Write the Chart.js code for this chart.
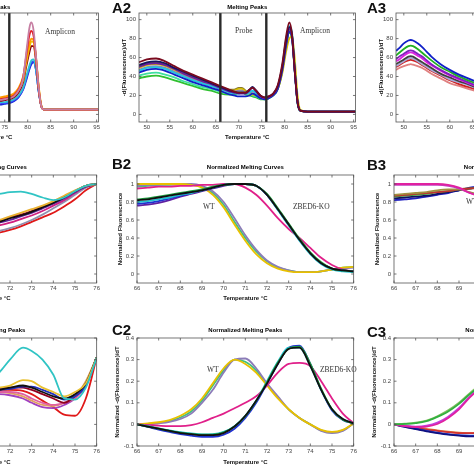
<!DOCTYPE html>
<html>
<head>
<meta charset="utf-8">
<script src="https://cdn.jsdelivr.net/npm/chart.js@4"></script>
<style>
  body { margin: 0; background: #fff; }
  #fig { position: relative; width: 474px; height: 474px; overflow: hidden; font-family: "Liberation Sans", Arial, sans-serif; }
  #fig canvas { position: absolute; }
  .lbl { position: absolute; font-size: 15px; font-weight: bold; line-height: 15px; color: #111; }
  .note { position: absolute; font-family: "Liberation Serif", "Times New Roman", serif; font-size: 7.5px; line-height: 8px; white-space: nowrap; color: #333; }
</style>
</head>
<body>
<div id="fig"></div>
<script>
// ---- axes ----
const aTicksX = [50, 55, 60, 65, 70, 75, 80, 85, 90, 95];
const aTicksY = [0, 20, 40, 60, 80, 100];
const bcTicksX = [66, 67, 68, 69, 70, 71, 72, 73, 74, 75, 76];
const bTicksY = [0, 0.2, 0.4, 0.6, 0.8, 1];
const cTicksY = [-0.1, 0, 0.1, 0.2, 0.3, 0.4];
const probeLines = [66, 76];

// ---- A1 melting peaks (amplicon region) ----
const a1Temps = [74, 75, 76, 77, 78, 79, 79.8, 80.4, 80.8, 81.3, 81.8, 82.4, 83, 83.6, 85, 90, 95.4];
const a1Curves = [
  [15, 16, 17, 19, 25, 38, 70, 92, 97, 88, 62, 28, 8, 5, 5, 5, 5],
  [16, 17, 18, 20, 26, 39, 66, 84, 88, 82, 60, 27, 8, 5, 5, 5, 5],
  [18, 19, 20, 22, 28, 40, 61, 75, 80, 78, 60, 28, 8, 5, 5, 5, 5],
  [17, 18, 19, 21, 26, 36, 57, 71, 77, 76, 61, 30, 9, 5, 5, 5, 5],
  [14, 15, 16, 18, 23, 34, 53, 66, 72, 72, 56, 26, 8, 5, 5, 5, 5],
  [13, 13, 14, 16, 20, 28, 42, 52, 57, 58, 48, 24, 8, 5, 5, 5, 5],
  [12, 12, 13, 15, 19, 27, 40, 50, 55, 56, 47, 24, 8, 5, 5, 5, 5],
  [10, 11, 12, 14, 18, 26, 38, 48, 53, 55, 47, 24, 8, 5, 5, 5, 5]
];

// ---- A2 melting peaks (probe + amplicon) ----
const a2Temps = [48.3, 50, 52, 54, 56, 58, 60, 62, 64, 66, 68, 69, 70, 70.7, 71.5, 72.3, 73, 73.8, 74.7, 75.6, 76.5, 77.5, 78.5, 79.5, 80.3, 81, 81.6, 82.2, 82.8, 83.4, 85, 90, 95.4];
const a2Curves = [
  [55, 58, 59, 56, 51, 46, 42, 38, 34, 30, 26, 24, 23, 23, 23, 26, 28, 25, 20, 18, 19, 22, 31, 54, 82, 97, 84, 46, 13, 4, 3, 3, 3],
  [52, 55, 56, 54, 49, 45, 41, 37, 33, 29, 25, 24, 23, 23, 23, 26, 29, 25, 20, 18, 19, 22, 30, 51, 78, 92, 84, 46, 13, 4, 3, 3, 3],
  [50, 53, 54, 52, 48, 43, 39, 35, 32, 28, 24, 23, 22, 22, 22, 25, 28, 24, 19, 17, 18, 21, 29, 50, 76, 90, 82, 45, 13, 4, 3, 3, 3],
  [44, 47, 48, 46, 42, 38, 34, 31, 28, 25, 21, 20, 19, 19, 19, 20, 22, 20, 17, 16, 17, 20, 27, 47, 72, 87, 80, 44, 12, 4, 3, 3, 3],
  [46, 49, 50, 48, 44, 40, 36, 33, 30, 27, 23, 22, 22, 23, 22, 23, 25, 22, 18, 17, 18, 21, 29, 52, 80, 93, 86, 48, 13, 4, 3, 3, 3],
  [47, 50, 51, 49, 45, 41, 37, 33, 30, 27, 24, 24, 25, 25, 23, 23, 24, 22, 18, 17, 18, 21, 28, 50, 77, 91, 83, 46, 13, 4, 3, 3, 3],
  [49, 52, 53, 51, 47, 42, 38, 34, 31, 28, 25, 25, 27, 27, 24, 22, 21, 20, 18, 17, 18, 21, 27, 44, 66, 80, 82, 58, 20, 5, 3, 3, 3],
  [51, 54, 55, 53, 49, 44, 40, 36, 33, 29, 26, 26, 28, 28, 25, 23, 22, 21, 19, 17, 18, 21, 28, 48, 74, 88, 82, 46, 13, 4, 3, 3, 3],
  [41, 43, 44, 42, 39, 35, 32, 29, 27, 24, 22, 22, 24, 25, 22, 21, 20, 19, 17, 16, 17, 20, 27, 47, 73, 88, 81, 45, 12, 4, 3, 3, 3],
  [38, 40, 41, 39, 36, 33, 30, 27, 25, 22, 21, 21, 23, 24, 21, 20, 19, 18, 16, 16, 17, 20, 27, 46, 72, 86, 80, 45, 12, 4, 3, 3, 3]
];

// ---- A3 melting peaks (low temperature part) ----
const a3Temps = [48.3, 49, 50, 51, 51.5, 52, 53, 54, 55, 56, 58, 60, 62, 64, 66];
const a3Curves = [
  [67, 70, 75, 78, 78.5, 78, 75, 71, 66, 61, 53, 47, 42, 38, 34],
  [62, 65, 69, 72, 72.5, 72, 69, 65, 61, 57, 50, 45, 40, 36, 32],
  [58, 61, 64, 67, 67.5, 67, 64, 61, 57, 53, 47, 42, 38, 34, 30],
  [56, 58, 62, 65, 65.5, 65, 62, 59, 55, 52, 46, 41, 37, 33, 29],
  [53, 55, 58, 61, 61.5, 61, 58, 55, 52, 49, 43, 39, 35, 32, 28],
  [51, 53, 56, 59, 59.5, 59, 56, 53, 50, 47, 42, 37, 34, 31, 27],
  [50, 52, 55, 57, 57.5, 57, 55, 52, 49, 46, 41, 36, 32, 29, 26],
  [47, 49, 51, 52.5, 53, 52.5, 51, 49, 46, 43, 38, 33, 30, 27, 24]
];

// ---- B1 normalized melting curves ----
const b1Temps = [66, 67, 68, 69, 70, 71, 71.5, 72, 72.5, 73, 73.5, 74, 74.5, 75, 75.5, 76];
const b1Curves = [
  [0.8, 0.82, 0.84, 0.86, 0.87, 0.88, 0.89, 0.91, 0.915, 0.89, 0.85, 0.82, 0.85, 0.92, 0.98, 1],
  [0.42, 0.45, 0.48, 0.52, 0.55, 0.58, 0.6, 0.64, 0.68, 0.72, 0.76, 0.81, 0.87, 0.93, 0.98, 1],
  [0.4, 0.43, 0.46, 0.5, 0.53, 0.56, 0.58, 0.62, 0.65, 0.69, 0.74, 0.79, 0.85, 0.92, 0.98, 1],
  [0.38, 0.41, 0.44, 0.48, 0.52, 0.55, 0.57, 0.6, 0.64, 0.68, 0.73, 0.78, 0.84, 0.91, 0.97, 1],
  [0.4, 0.43, 0.46, 0.5, 0.53, 0.56, 0.59, 0.63, 0.66, 0.7, 0.75, 0.8, 0.86, 0.92, 0.98, 1],
  [0.35, 0.38, 0.41, 0.45, 0.48, 0.52, 0.54, 0.57, 0.61, 0.65, 0.7, 0.76, 0.82, 0.9, 0.97, 1],
  [0.3, 0.33, 0.36, 0.4, 0.43, 0.46, 0.48, 0.51, 0.55, 0.6, 0.66, 0.73, 0.8, 0.88, 0.96, 1],
  [0.3, 0.32, 0.35, 0.38, 0.41, 0.44, 0.46, 0.49, 0.53, 0.58, 0.63, 0.68, 0.75, 0.83, 0.93, 1]
];

// ---- B2 normalized melting curves (WT vs ZBED6-KO) ----
const b2Temps = [66, 66.5, 67, 67.5, 68, 68.5, 69, 69.5, 70, 70.5, 71, 71.5, 72, 72.5, 73, 73.5, 74, 74.5, 75, 75.5, 76];
const b2Curves = [
  [0.82, 0.83, 0.85, 0.87, 0.89, 0.91, 0.93, 0.96, 0.99, 1, 1, 0.98, 0.88, 0.72, 0.55, 0.38, 0.23, 0.12, 0.06, 0.04, 0.03],
  [0.83, 0.84, 0.86, 0.88, 0.9, 0.92, 0.94, 0.97, 0.99, 1, 1, 0.98, 0.89, 0.73, 0.56, 0.39, 0.24, 0.13, 0.06, 0.04, 0.03],
  [0.8, 0.81, 0.83, 0.85, 0.88, 0.9, 0.93, 0.96, 0.99, 1, 1, 0.98, 0.88, 0.71, 0.54, 0.37, 0.22, 0.11, 0.05, 0.03, 0.02],
  [0.78, 0.79, 0.81, 0.84, 0.87, 0.9, 0.93, 0.96, 0.99, 1, 1, 0.98, 0.88, 0.72, 0.55, 0.38, 0.23, 0.12, 0.06, 0.04, 0.03],
  [0.76, 0.77, 0.79, 0.82, 0.86, 0.89, 0.92, 0.95, 0.98, 1, 1, 0.98, 0.88, 0.72, 0.55, 0.38, 0.23, 0.12, 0.06, 0.04, 0.03],
  [0.95, 0.96, 0.97, 0.97, 0.98, 0.98, 0.99, 0.99, 1, 1, 0.96, 0.88, 0.76, 0.62, 0.5, 0.4, 0.29, 0.18, 0.1, 0.05, 0.03],
  [1, 1, 1, 1, 1, 0.99, 0.96, 0.88, 0.74, 0.55, 0.37, 0.22, 0.12, 0.06, 0.03, 0.02, 0.02, 0.03, 0.05, 0.07, 0.08],
  [0.98, 0.99, 0.99, 1, 1, 1, 0.98, 0.92, 0.8, 0.62, 0.43, 0.27, 0.15, 0.08, 0.04, 0.02, 0.02, 0.03, 0.05, 0.06, 0.07],
  [0.97, 0.98, 0.99, 0.99, 1, 0.99, 0.97, 0.9, 0.77, 0.58, 0.4, 0.25, 0.14, 0.07, 0.04, 0.02, 0.02, 0.03, 0.05, 0.07, 0.08]
];

// ---- B3 normalized melting curves ----
const b3Temps = [66, 66.5, 67, 67.5, 68, 68.5, 69, 69.5, 70, 70.5];
const b3Curves = [
  [1, 1, 1, 1, 1, 0.99, 0.96, 0.9, 0.86, 0.85],
  [0.99, 0.99, 0.99, 0.99, 0.99, 0.98, 0.95, 0.9, 0.87, 0.86],
  [0.88, 0.89, 0.9, 0.91, 0.93, 0.94, 0.94, 0.91, 0.88, 0.86],
  [0.87, 0.88, 0.89, 0.9, 0.91, 0.92, 0.94, 0.95, 0.96, 0.97],
  [0.86, 0.87, 0.88, 0.89, 0.91, 0.92, 0.94, 0.95, 0.96, 0.97],
  [0.84, 0.85, 0.86, 0.87, 0.89, 0.91, 0.93, 0.95, 0.97, 0.98],
  [0.82, 0.83, 0.84, 0.86, 0.88, 0.9, 0.93, 0.96, 0.97, 0.98]
];

// ---- C1 normalized melting peaks ----
const c1Temps = [66, 67, 68, 69, 70, 71, 71.5, 72, 72.6, 73, 73.5, 74, 74.5, 75, 75.5, 76];
const c1Curves = [
  [0, 0.03, 0.07, 0.11, 0.16, 0.2, 0.24, 0.3, 0.355, 0.34, 0.3, 0.23, 0.12, 0.115, 0.17, 0.31],
  [0, 0.03, 0.07, 0.11, 0.14, 0.16, 0.17, 0.18, 0.205, 0.2, 0.17, 0.15, 0.13, 0.15, 0.19, 0.31],
  [0, 0.03, 0.07, 0.1, 0.13, 0.15, 0.16, 0.17, 0.18, 0.17, 0.15, 0.13, 0.12, 0.14, 0.19, 0.31],
  [0, 0.03, 0.06, 0.1, 0.13, 0.15, 0.16, 0.165, 0.175, 0.175, 0.16, 0.14, 0.115, 0.13, 0.18, 0.31],
  [0, 0.03, 0.07, 0.1, 0.13, 0.15, 0.165, 0.17, 0.17, 0.16, 0.14, 0.12, 0.1, 0.13, 0.18, 0.31],
  [0, 0.03, 0.06, 0.09, 0.12, 0.14, 0.15, 0.15, 0.14, 0.12, 0.1, 0.09, 0.1, 0.12, 0.18, 0.31],
  [0, 0.03, 0.06, 0.09, 0.12, 0.14, 0.15, 0.145, 0.13, 0.11, 0.09, 0.085, 0.1, 0.13, 0.2, 0.31],
  [0, 0.03, 0.06, 0.09, 0.12, 0.14, 0.14, 0.135, 0.12, 0.1, 0.08, 0.075, 0.09, 0.12, 0.19, 0.31],
  [0, 0.03, 0.07, 0.1, 0.13, 0.15, 0.16, 0.16, 0.155, 0.14, 0.11, 0.08, 0.045, 0.04, 0.12, 0.31]
];

// ---- C2 normalized melting peaks (WT vs ZBED6-KO) ----
const c2Temps = b2Temps;
const c2Curves = [
  [0, -0.01, -0.02, -0.03, -0.04, -0.045, -0.05, -0.05, -0.04, -0.01, 0.04, 0.11, 0.19, 0.28, 0.35, 0.355, 0.27, 0.16, 0.07, 0.025, 0.005],
  [0, -0.01, -0.02, -0.03, -0.038, -0.044, -0.048, -0.047, -0.037, -0.01, 0.038, 0.108, 0.195, 0.285, 0.35, 0.36, 0.28, 0.165, 0.07, 0.022, 0.005],
  [0, -0.008, -0.018, -0.028, -0.036, -0.042, -0.046, -0.045, -0.035, -0.008, 0.04, 0.11, 0.2, 0.29, 0.355, 0.355, 0.27, 0.16, 0.07, 0.025, 0.005],
  [0, -0.012, -0.024, -0.035, -0.045, -0.052, -0.058, -0.058, -0.048, -0.02, 0.03, 0.1, 0.19, 0.28, 0.355, 0.365, 0.28, 0.16, 0.065, 0.02, 0.005],
  [0, -0.003, -0.006, -0.008, -0.008, -0.003, 0.01, 0.03, 0.05, 0.075, 0.1, 0.13, 0.18, 0.24, 0.28, 0.285, 0.27, 0.2, 0.12, 0.05, 0.005],
  [0, 0.005, 0.01, 0.02, 0.04, 0.07, 0.12, 0.19, 0.26, 0.3, 0.28, 0.24, 0.18, 0.12, 0.07, 0.03, 0, -0.025, -0.035, -0.025, 0.005],
  [0, 0, 0.005, 0.012, 0.025, 0.05, 0.1, 0.16, 0.24, 0.3, 0.305, 0.26, 0.19, 0.13, 0.07, 0.03, 0, -0.03, -0.04, -0.03, 0.005],
  [0, 0.002, 0.008, 0.016, 0.032, 0.06, 0.11, 0.18, 0.25, 0.3, 0.29, 0.25, 0.185, 0.125, 0.07, 0.03, 0, -0.028, -0.038, -0.028, 0.005]
];

// ---- C3 normalized melting peaks ----
const c3Temps = [66, 66.5, 67, 67.5, 68, 68.5, 69, 69.5, 70];
const c3Curves = [
  [0, 0.002, 0.006, 0.015, 0.035, 0.06, 0.095, 0.14, 0.18],
  [0, 0.003, 0.008, 0.018, 0.038, 0.065, 0.1, 0.145, 0.185],
  [0, -0.008, -0.012, -0.01, 0.002, 0.03, 0.07, 0.125, 0.17],
  [0, -0.006, -0.01, -0.006, 0.008, 0.036, 0.076, 0.13, 0.175],
  [0, -0.012, -0.022, -0.032, -0.04, -0.047, -0.052, -0.055, -0.055],
  [0, -0.01, -0.02, -0.03, -0.038, -0.045, -0.05, -0.052, -0.05],
  [0, -0.008, -0.016, -0.024, -0.03, -0.036, -0.04, -0.04, -0.038],
  [0, -0.007, -0.014, -0.021, -0.028, -0.034, -0.038, -0.04, -0.038]
];

// line colours (styles, kept apart from the values)
const a1Colors = ['#c77fa3', '#e3202a', '#ff9a00', '#f0c400', '#8a0010', '#30c4d0', '#3a4cff', '#1a28d8'];
const a2Colors = ['#7a0a1e', '#141460', '#6a1aa0', '#1020c8', '#20c8e0', '#8a84b0', '#d8c000', '#8a7a2a', '#40e0a0', '#30c030'];
const a3Colors = ['#1020c8', '#20b020', '#8020c0', '#e020e0', '#404040', '#a8a8d8', '#d02020', '#e08080'];
const b1Colors = ['#30c4c4', '#e8b030', '#101010', '#6020a0', '#900020', '#d02080', '#9090b0', '#e01818'];
const b2Colors = ['#101010', '#20a040', '#20c0d0', '#2030d0', '#6020a0', '#e0208a', '#e8c000', '#8c7cb8', '#40c080'];
const b3Colors = ['#e020a0', '#c040c0', '#a09040', '#c03030', '#40a040', '#101060', '#2020c0'];
const c1Colors = ['#30c4c4', '#e8c030', '#101010', '#2030c0', '#900020', '#e060a0', '#e0a060', '#a040c0', '#e01818'];
const c2Colors = ['#101010', '#20a040', '#20c0d0', '#2030d0', '#e0208a', '#e8c000', '#8c7cb8', '#40c080'];
const c3Colors = ['#30b040', '#80c060', '#e020a0', '#c040e0', '#101080', '#2040d0', '#d03030', '#e08040'];

const FONT = '"Liberation Sans", Arial, sans-serif';
const fig = document.getElementById('fig');

const boxPlugin = {
  id: 'matlabBox',
  afterDraw(chart) {
    const { ctx, chartArea: a, scales: { x, y } } = chart;
    ctx.save();
    ctx.strokeStyle = '#555';
    ctx.lineWidth = 0.8;
    ctx.strokeRect(a.left, a.top, a.right - a.left, a.bottom - a.top);
    ctx.beginPath();
    x.ticks.forEach(t => {
      const px = x.getPixelForValue(t.value);
      ctx.moveTo(px, a.bottom); ctx.lineTo(px, a.bottom - 2.5);
      ctx.moveTo(px, a.top); ctx.lineTo(px, a.top + 2.5);
    });
    y.ticks.forEach(t => {
      const py = y.getPixelForValue(t.value);
      ctx.moveTo(a.left, py); ctx.lineTo(a.left + 2.5, py);
      ctx.moveTo(a.right, py); ctx.lineTo(a.right - 2.5, py);
    });
    ctx.stroke();
    ctx.restore();
  }
};

function makePanel(p) {
  const PR = 3;
  const titleBlock = 8 + p.titleGap;   // title line height + gap under it
  const canvas = document.createElement('canvas');
  const cw = p.yw + p.w + PR, ch = titleBlock + p.h + p.xh;
  canvas.width = cw; canvas.height = ch;
  canvas.style.left = (p.left - p.yw) + 'px';
  canvas.style.top = (p.top - titleBlock) + 'px';
  canvas.style.width = cw + 'px';
  canvas.style.height = ch + 'px';
  fig.appendChild(canvas);

  const datasets = [];
  (p.vlines || []).forEach(v => {
    datasets.push({
      data: [{ x: v, y: p.yMin }, { x: v, y: p.yMax }],
      borderColor: '#2a2a2a', borderWidth: 2.4, pointRadius: 0
    });
  });
  p.curves.forEach((vals, i) => {
    datasets.push({
      data: p.temps.map((t, j) => ({ x: t, y: vals[j] })),
      borderColor: p.colors[i], borderWidth: 1.8, pointRadius: 0,
      cubicInterpolationMode: 'monotone'
    });
  });

  const tickFont = { family: FONT, size: 6 };
  const titleFont = { family: FONT, size: 6, weight: 'bold' };

  new Chart(canvas, {
    type: 'line',
    data: { datasets },
    options: {
      responsive: false, animation: false, events: [],
      layout: { autoPadding: false, padding: { top: 0, right: PR, left: 0, bottom: 0 } },
      plugins: {
        legend: { display: false },
        tooltip: { enabled: false },
        title: {
          display: true, text: p.title, fullSize: false, color: '#000',
          font: { family: FONT, size: 6, weight: 'bold', lineHeight: '8px' },
          padding: { top: 0, bottom: p.titleGap }
        }
      },
      scales: {
        x: {
          type: 'linear', min: p.xMin, max: p.xMax,
          afterBuildTicks: s => { s.ticks = p.xTicks.map(v => ({ value: v })); },
          afterFit: s => { s.height = p.xh; },
          grid: { display: false, drawTicks: false },
          border: { display: false },
          ticks: { font: tickFont, color: '#444', padding: 2, maxRotation: 0, autoSkip: false, callback: v => String(v) },
          title: { display: true, text: 'Temperature °C', font: titleFont, color: '#111', padding: 0 }
        },
        y: {
          type: 'linear', min: p.yMin, max: p.yMax,
          afterBuildTicks: s => { s.ticks = p.yTicks.map(v => ({ value: v })); },
          afterFit: s => { s.width = p.yw; },
          grid: { display: false, drawTicks: false },
          border: { display: false },
          ticks: { font: tickFont, color: '#444', padding: 3, autoSkip: false, callback: v => String(v) },
          title: { display: true, text: p.yTitle, font: titleFont, color: '#111', padding: 0 }
        }
      }
    },
    plugins: [boxPlugin]
  });
}

const rowA = { top: 13, h: 109, yw: 18, xh: 19, w: 217, xMin: 48.3, xMax: 95.4, yMin: -8, yMax: 107,
  xTicks: aTicksX, yTicks: aTicksY, yTitle: '-d(Fluorescence)/dT', title: 'Melting Peaks', titleGap: 2 };
const rowB = { top: 175, h: 108, yw: 20, xh: 19, w: 219, xMin: 66, xMax: 76, yMin: -0.1, yMax: 1.1,
  xTicks: bcTicksX, yTicks: bTicksY, yTitle: 'Normalized Fluorescence', title: 'Normalized Melting Curves', titleGap: 4 };
const rowC = { top: 338, h: 108, yw: 23, xh: 20, w: 219, xMin: 66, xMax: 76, yMin: -0.1, yMax: 0.4,
  xTicks: bcTicksX, yTicks: cTicksY, yTitle: 'Normalized -d(Fluorescence)/dT', title: 'Normalized Melting Peaks', titleGap: 4 };

makePanel({ ...rowA, left: -118, temps: a1Temps, curves: a1Curves, colors: a1Colors, vlines: probeLines });
makePanel({ ...rowA, left: 139, temps: a2Temps, curves: a2Curves, colors: a2Colors, vlines: probeLines });
makePanel({ ...rowA, left: 396, temps: a3Temps, curves: a3Curves, colors: a3Colors });
makePanel({ ...rowB, left: -120, temps: b1Temps, curves: b1Curves, colors: b1Colors });
makePanel({ ...rowB, left: 137, temps: b2Temps, curves: b2Curves, colors: b2Colors });
makePanel({ ...rowB, left: 394, temps: b3Temps, curves: b3Curves, colors: b3Colors });
makePanel({ ...rowC, left: -120, temps: c1Temps, curves: c1Curves, colors: c1Colors });
makePanel({ ...rowC, left: 137, temps: c2Temps, curves: c2Curves, colors: c2Colors });
makePanel({ ...rowC, left: 394, temps: c3Temps, curves: c3Curves, colors: c3Colors });

// panel letters and annotations
const labels = [['A2', 112, 0], ['A3', 367, 0], ['B2', 112, 156], ['B3', 367, 157], ['C2', 112, 322], ['C3', 367, 324]];
labels.forEach(([txt, x, y]) => {
  const d = document.createElement('div');
  d.className = 'lbl'; d.textContent = txt;
  d.style.left = x + 'px'; d.style.top = y + 'px';
  fig.appendChild(d);
});
const notes = [['Amplicon', 45, 28], ['Probe', 235, 27], ['Amplicon', 300, 27], ['WT', 203, 203], ['ZBED6-KO', 293, 203],
  ['WT', 466, 198], ['WT', 207, 366], ['ZBED6-KO', 320, 366]];
notes.forEach(([txt, x, y]) => {
  const d = document.createElement('div');
  d.className = 'note'; d.textContent = txt;
  d.style.left = x + 'px'; d.style.top = y + 'px';
  fig.appendChild(d);
});
</script>
</body>
</html>
